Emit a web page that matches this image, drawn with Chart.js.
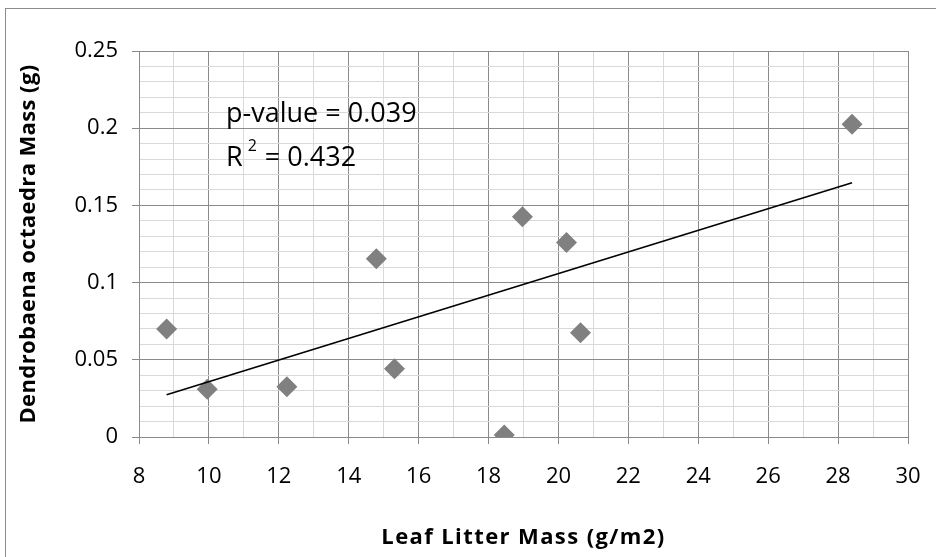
<!DOCTYPE html>
<html>
<head>
<meta charset="utf-8">
<script src="https://cdn.jsdelivr.net/npm/chart.js@4"></script>
<style>
  html, body { margin: 0; padding: 0; background: #fff; }
  .wrap { position: relative; width: 936px; height: 557px; overflow: hidden; }
  .frame {
    position: absolute; left: 5px; top: 8px; width: 1000px; height: 1000px;
    border: 1.5px solid #8c8c8c;
  }
  #chart { position: absolute; left: 0; top: 0; }
</style>
</head>
<body>
<div class="wrap">
  <div class="frame"></div>
  <canvas id="chart" width="936" height="557"></canvas>
</div>
<script>
// values
const leafLitter  = [8.79, 9.95, 12.23, 14.79, 15.31, 18.45, 18.97, 20.23, 20.63, 28.4];
const dendrobaena = [0.070, 0.031, 0.0326, 0.1155, 0.0442, 0.0013, 0.1427, 0.1259, 0.0676, 0.2025];

// fitted line ends as drawn
const trendX = [8.79, 28.4];
const trendY = [0.0274, 0.1647];

const xMajorTicks = [8, 10, 12, 14, 16, 18, 20, 22, 24, 26, 28, 30];
const yMajorTicks = [0, 0.05, 0.1, 0.15, 0.2, 0.25];

const statLines = ['p-value = 0.039', 'R', '2', ' = 0.432'];
const statAnchor = { x: 10.49, y1: 0.2042, y2: 0.1757 };

const MAJOR = '#8a8a8a';
const MINOR = '#d9d9d9';
const FONT = "'Open Sans', sans-serif";

function isMajor(v, list) {
  return list.some(m => Math.abs(m - v) < 1e-6);
}

// excel spreads the bold axis titles a little
const spacedTitles = {
  id: 'spacedTitles',
  beforeDraw(chart) {
    const ctx = chart.ctx;
    [['x', '1.4px'], ['y', '0.4px']].forEach(([id, sp]) => {
      const s = chart.scales[id];
      if (s._spaced) return;
      const orig = s.drawTitle.bind(s);
      s.drawTitle = function () {
        ctx.save();
        ctx.letterSpacing = sp;
        orig();
        ctx.restore();
      };
      s._spaced = true;
    });
  }
};

const statsText = {
  id: 'statsText',
  afterDatasetsDraw(chart) {
    const { ctx, scales: { x, y } } = chart;
    const px = x.getPixelForValue(statAnchor.x);
    ctx.save();
    ctx.fillStyle = '#000';
    ctx.textBaseline = 'alphabetic';
    ctx.font = '27px ' + FONT;
    ctx.fillText(statLines[0], px, y.getPixelForValue(statAnchor.y1));
    const by = y.getPixelForValue(statAnchor.y2);
    ctx.fillText(statLines[1], px, by);
    let cx = px + ctx.measureText(statLines[1]).width + 5;
    ctx.font = '16px ' + FONT;
    ctx.fillText(statLines[2], cx, by - 15);
    cx += ctx.measureText(statLines[2]).width + 1;
    ctx.font = '27px ' + FONT;
    ctx.fillText(statLines[3], cx, by);
    ctx.restore();
  }
};

new Chart(document.getElementById('chart'), {
  data: {
    datasets: [
      {
        type: 'scatter',
        data: leafLitter.map((v, i) => ({ x: v, y: dendrobaena[i] })),
        pointStyle: 'rectRot',
        pointRadius: 10.5,
        pointHoverRadius: 10.5,
        backgroundColor: '#808080',
        borderColor: '#808080',
        borderWidth: 0,
        order: 1
      },
      {
        type: 'line',
        data: trendX.map((v, i) => ({ x: v, y: trendY[i] })),
        borderColor: '#000',
        borderWidth: 1.6,
        pointRadius: 0,
        fill: false,
        order: 0
      }
    ]
  },
  options: {
    responsive: false,
    animation: false,
    layout: { padding: { left: 0, top: 51, right: 28, bottom: 0 } },
    plugins: { legend: { display: false }, tooltip: { enabled: false } },
    scales: {
      x: {
        type: 'linear',
        min: 8, max: 30,
        afterFit: s => { s.height = 120; },
        border: { color: MAJOR, width: 1 },
        grid: {
          color: c => isMajor(c.tick.value, xMajorTicks) ? MAJOR : MINOR,
          tickColor: c => isMajor(c.tick.value, xMajorTicks) ? MAJOR : 'rgba(0,0,0,0)',
          tickLength: 7
        },
        ticks: {
          stepSize: 1,
          autoSkip: false,
          maxRotation: 0,
          padding: 15,
          color: '#000',
          font: { family: FONT, size: 22, lineHeight: 1.65 },
          callback: v => isMajor(v, xMajorTicks) ? String(v) : ''
        },
        title: {
          display: true,
          text: 'Leaf Litter Mass (g/m2)',
          color: '#000',
          font: { family: FONT, size: 22, weight: 'bold' },
          padding: { top: 0, bottom: 6 }
        }
      },
      y: {
        type: 'linear',
        min: 0, max: 0.25,
        afterFit: s => { s.width = 139; },
        border: { color: MAJOR, width: 1 },
        grid: {
          color: c => isMajor(c.tick.value, yMajorTicks) ? MAJOR : MINOR,
          tickColor: c => isMajor(c.tick.value, yMajorTicks) ? MAJOR : 'rgba(0,0,0,0)',
          tickLength: 7
        },
        ticks: {
          stepSize: 0.01,
          maxTicksLimit: 100,
          autoSkip: false,
          padding: 14,
          color: '#000',
          font: { family: FONT, size: 22 },
          callback: v => isMajor(v, yMajorTicks) ? String(Number(v.toFixed(2))) : ''
        },
        title: {
          display: true,
          text: 'Dendrobaena octaedra Mass (g)',
          color: '#000',
          font: { family: FONT, size: 22, weight: 'bold' },
          padding: { top: 16, bottom: 0 }
        }
      }
    }
  },
  plugins: [spacedTitles, statsText]
});
</script>
</body>
</html>
